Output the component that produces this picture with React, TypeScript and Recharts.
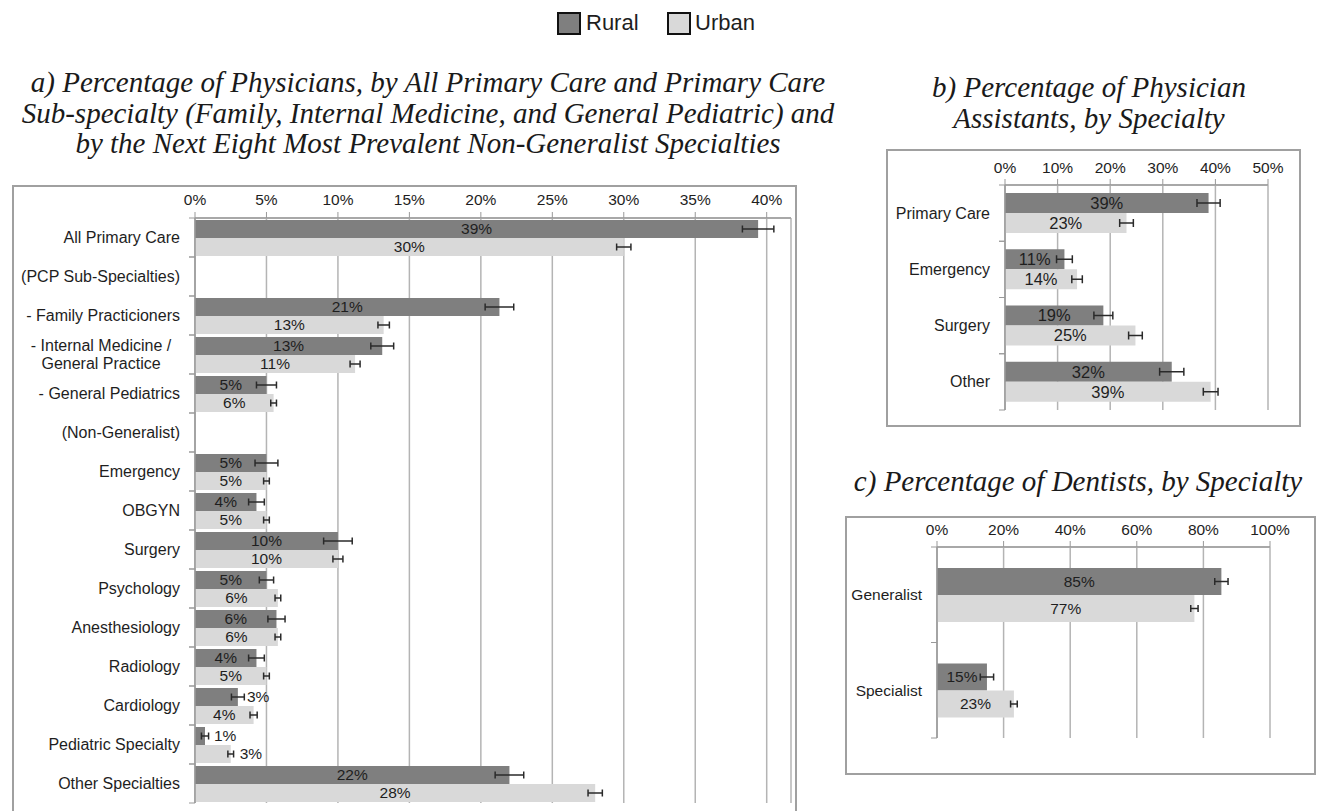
import React from 'react';
import { BarChart, Bar, XAxis, YAxis, CartesianGrid, ErrorBar, LabelList } from 'recharts';

const RURAL = '#7f7f7f';
const URBAN = '#d9d9d9';
const INK = '#1e1e1e';
const GRID = '#b4b4b4';
const SANS = '"Liberation Sans", Arial, sans-serif';
const SERIF = '"Liberation Serif", "Times New Roman", serif';

// a) physicians
const physicianCategories = [
  'All Primary Care',
  '(PCP Sub-Specialties)',
  '- Family Practicioners',
  '- Internal Medicine /\nGeneral Practice',
  '- General Pediatrics',
  '(Non-Generalist)',
  'Emergency',
  'OBGYN',
  'Surgery',
  'Psychology',
  'Anesthesiology',
  'Radiology',
  'Cardiology',
  'Pediatric Specialty',
  'Other Specialties',
];
const physicianRural = [39.4, null, 21.3, 13.1, 5.0, null, 5.0, 4.3, 10.0, 5.0, 5.7, 4.3, 3.0, 0.7, 22.0];
const physicianRuralErr = [1.1, null, 1.0, 0.8, 0.7, null, 0.8, 0.55, 1.0, 0.5, 0.6, 0.55, 0.45, 0.25, 1.0];
const physicianUrban = [30.0, null, 13.2, 11.2, 5.5, null, 5.0, 5.0, 10.0, 5.8, 5.8, 5.0, 4.1, 2.5, 28.0];
const physicianUrbanErr = [0.5, null, 0.4, 0.35, 0.2, null, 0.2, 0.2, 0.35, 0.2, 0.2, 0.2, 0.25, 0.2, 0.5];
const physicianTicks = [0, 5, 10, 15, 20, 25, 30, 35, 40];

// b) physician assistants
const paCategories = ['Primary Care', 'Emergency', 'Surgery', 'Other'];
const paRural = [38.7, 11.3, 18.7, 31.7];
const paRuralErr = [2.2, 1.5, 1.8, 2.3];
const paUrban = [23.1, 13.7, 24.8, 39.1];
const paUrbanErr = [1.3, 1.0, 1.3, 1.4];
const paTicks = [0, 10, 20, 30, 40, 50];

// c) dentists
const dentistCategories = ['Generalist', 'Specialist'];
const dentistRural = [85.4, 15.0];
const dentistRuralErr = [2.0, 2.0];
const dentistUrban = [77.3, 23.1];
const dentistUrbanErr = [1.1, 1.0];
const dentistTicks = [0, 20, 40, 60, 80, 100];

const buildRows = (cats: string[], rural: (number | null)[], ruralErr: (number | null)[], urban: (number | null)[], urbanErr: (number | null)[]) =>
  cats.map((name, i) => ({ name, rural: rural[i], ruralErr: ruralErr[i], urban: urban[i], urbanErr: urbanErr[i] }));

const CategoryTick = (props: any) => {
  const { x, y, payload, band, fontSize } = props;
  const lines = String(payload.value).split('\n');
  const lineGap = fontSize * 1.15;
  const longest = Math.max(...lines.map((l) => l.length));
  const multi = lines.length > 1;
  const tx = multi ? x - 15 - (longest * fontSize * 0.47) / 2 : x - 15;
  const startY = y - ((lines.length - 1) * lineGap) / 2;
  return (
    <g>
      <line x1={x - 6} x2={x} y1={y - band / 2} y2={y - band / 2} stroke="#999" />
      <line x1={x - 6} x2={x} y1={y + band / 2} y2={y + band / 2} stroke="#999" />
      <text textAnchor={multi ? 'middle' : 'end'} fontFamily={SANS} fontSize={fontSize} fill={INK}>
        {lines.map((l, i) => (
          <tspan key={i} x={tx} y={startY + i * lineGap} dy="0.35em">
            {l}
          </tspan>
        ))}
      </text>
    </g>
  );
};

const makeBarLabel = (fontSize: number, outsideBelow: number) => (props: any) => {
  const box = props.viewBox && props.viewBox.width != null ? props.viewBox : props;
  const { x, y, width, height } = box;
  const value = props.value;
  if (value == null || width == null) return null;
  const text = `${Math.round(Number(value))}%`;
  const cy = y + height / 2;
  const outside = width < outsideBelow;
  return (
    <text
      x={outside ? x + width + 9 : x + width / 2}
      y={cy}
      dy="0.35em"
      textAnchor={outside ? 'start' : 'middle'}
      fontFamily={SANS}
      fontSize={fontSize}
      fill={INK}
    >
      {text}
    </text>
  );
};

interface PanelProps {
  rows: any[];
  ticks: number[];
  domainMax: number;
  width: number;
  height: number;
  yAxisWidth: number;
  xAxisHeight: number;
  margin: { top: number; right: number; bottom: number; left: number };
  barSize: number;
  capHalf: number;
  catFont: number;
  tickFont: number;
  labelFont: number;
  tickMargin: number;
  outsideBelow: number;
}

const Panel = (p: PanelProps) => {
  const plotH = p.height - p.margin.top - p.margin.bottom - p.xAxisHeight;
  const band = plotH / p.rows.length;
  const label = makeBarLabel(p.labelFont, p.outsideBelow);
  return (
    <BarChart
      width={p.width}
      height={p.height}
      data={p.rows}
      layout="vertical"
      margin={p.margin}
      barGap={0}
      barSize={p.barSize}
    >
      <CartesianGrid horizontal={false} stroke={GRID} strokeWidth={1.5} />
      <XAxis
        type="number"
        orientation="top"
        domain={[0, p.domainMax]}
        ticks={p.ticks}
        allowDataOverflow
        height={p.xAxisHeight}
        tickFormatter={(v: number) => `${v}%`}
        tick={{ fontSize: p.tickFont, fill: INK, fontFamily: SANS }}
        tickSize={6}
        tickMargin={p.tickMargin}
        axisLine={{ stroke: '#a8a8a8', strokeWidth: 2 }}
        tickLine={{ stroke: '#999' }}
      />
      <YAxis
        type="category"
        dataKey="name"
        width={p.yAxisWidth}
        interval={0}
        tickSize={0}
        tickMargin={0}
        tickLine={false}
        axisLine={{ stroke: '#999', strokeWidth: 1.5 }}
        tick={<CategoryTick band={band} fontSize={p.catFont} />}
      />
      <Bar dataKey="rural" fill={RURAL} isAnimationActive={false}>
        <ErrorBar dataKey="ruralErr" direction="x" width={p.capHalf} stroke="#2a2a2a" strokeWidth={1.5} />
        <LabelList dataKey="rural" content={label} />
      </Bar>
      <Bar dataKey="urban" fill={URBAN} isAnimationActive={false}>
        <ErrorBar dataKey="urbanErr" direction="x" width={p.capHalf} stroke="#2a2a2a" strokeWidth={1.5} />
        <LabelList dataKey="urban" content={label} />
      </Bar>
    </BarChart>
  );
};

const boxStyle = (left: number, top: number, width: number, height: number): React.CSSProperties => ({
  position: 'absolute',
  left,
  top,
  width,
  height,
  border: '2px solid #a0a0a0',
  boxSizing: 'border-box',
});

// centred title block: cx is the horizontal centre of the text
const titleStyle = (cx: number, top: number): React.CSSProperties => ({
  position: 'absolute',
  left: cx - 600,
  top,
  width: 1200,
  textAlign: 'center',
  fontFamily: SERIF,
  fontStyle: 'italic',
  fontSize: 29,
  lineHeight: '30.5px',
  color: '#1a1a1a',
  whiteSpace: 'nowrap',
});

const App = () => {
  const physicianRows = buildRows(physicianCategories, physicianRural, physicianRuralErr, physicianUrban, physicianUrbanErr);
  const paRows = buildRows(paCategories, paRural, paRuralErr, paUrban, paUrbanErr);
  const dentistRows = buildRows(dentistCategories, dentistRural, dentistRuralErr, dentistUrban, dentistUrbanErr);

  return (
    <div
      style={{
        position: 'absolute',
        left: 0,
        top: 0,
        width: 1319,
        height: 811,
        overflow: 'hidden',
        background: '#fff',
        fontFamily: SANS,
      }}
    >
      {/* legend */}
      <div style={{ position: 'absolute', left: 557, top: 12, width: 24, height: 23, background: RURAL, border: '2px solid #111', boxSizing: 'border-box' }} />
      <div style={{ position: 'absolute', left: 586, top: 9, fontSize: 22, lineHeight: '27px', color: INK }}>Rural</div>
      <div style={{ position: 'absolute', left: 667, top: 12, width: 24, height: 23, background: URBAN, border: '2px solid #111', boxSizing: 'border-box' }} />
      <div style={{ position: 'absolute', left: 695, top: 9, fontSize: 22, lineHeight: '27px', color: INK }}>Urban</div>

      {/* titles */}
      <div style={titleStyle(428, 67)}>
        a) Percentage of Physicians, by All Primary Care and Primary Care
        <br />
        Sub-specialty (Family, Internal Medicine, and General Pediatric) and
        <br />
        by the Next Eight Most Prevalent Non-Generalist Specialties
      </div>
      <div style={titleStyle(1089, 72)}>
        b) Percentage of Physician
        <br />
        Assistants, by Specialty
      </div>
      <div style={titleStyle(1078, 466)}>c) Percentage of Dentists, by Specialty</div>

      {/* panel a */}
      <div style={boxStyle(12, 185, 785, 640)} />
      <div style={{ position: 'absolute', left: 12, top: 185 }}>
        <Panel
          rows={physicianRows}
          ticks={physicianTicks}
          domainMax={41.7}
          width={785}
          height={630}
          yAxisWidth={183}
          xAxisHeight={33}
          margin={{ top: 0, right: 6, bottom: 12, left: 0 }}
          barSize={18}
          capHalf={3.5}
          catFont={16}
          tickFont={15.5}
          labelFont={15.5}
          tickMargin={7}
          outsideBelow={50}
        />
      </div>

      {/* panel b */}
      <div style={boxStyle(886, 149, 415, 278)} />
      <div style={{ position: 'absolute', left: 886, top: 149 }}>
        <Panel
          rows={paRows}
          ticks={paTicks}
          domainMax={50}
          width={415}
          height={278}
          yAxisWidth={119}
          xAxisHeight={36}
          margin={{ top: 0, right: 33, bottom: 17, left: 0 }}
          barSize={20}
          capHalf={4}
          catFont={16}
          tickFont={15.5}
          labelFont={16.5}
          tickMargin={6.5}
          outsideBelow={0}
        />
      </div>

      {/* panel c */}
      <div style={boxStyle(845, 516, 471, 259)} />
      <div style={{ position: 'absolute', left: 845, top: 516 }}>
        <Panel
          rows={dentistRows}
          ticks={dentistTicks}
          domainMax={100}
          width={471}
          height={259}
          yAxisWidth={92}
          xAxisHeight={31}
          margin={{ top: 0, right: 46, bottom: 37, left: 0 }}
          barSize={27}
          capHalf={3.5}
          catFont={15.5}
          tickFont={15.5}
          labelFont={15.5}
          tickMargin={6.5}
          outsideBelow={0}
        />
      </div>
    </div>
  );
};

export default App;
